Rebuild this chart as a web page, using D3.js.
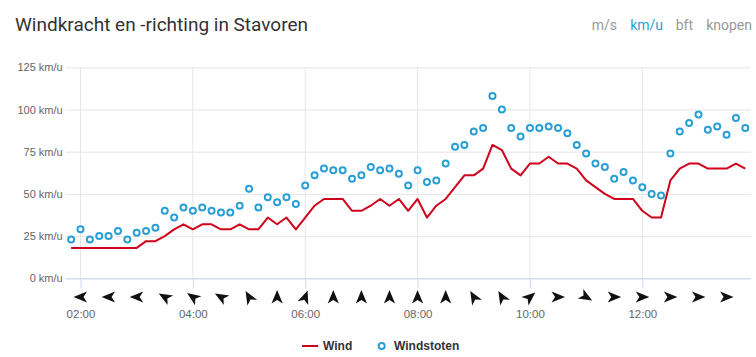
<!DOCTYPE html>
<html><head><meta charset="utf-8">
<script src="https://cdn.jsdelivr.net/npm/d3@7"></script>
<style>
html,body{margin:0;padding:0;background:#fff;}
svg{display:block;}
</style></head>
<body><svg id="c" width="756" height="357"></svg>
<script>
// ---- data ----
const times = ["01:50","02:00","02:10","02:20","02:30","02:40","02:50","03:00","03:10","03:20","03:30","03:40","03:50",
"04:00","04:10","04:20","04:30","04:40","04:50","05:00","05:10","05:20","05:30","05:40","05:50",
"06:00","06:10","06:20","06:30","06:40","06:50","07:00","07:10","07:20","07:30","07:40","07:50",
"08:00","08:10","08:20","08:30","08:40","08:50","09:00","09:10","09:20","09:30","09:40","09:50",
"10:00","10:10","10:20","10:30","10:40","10:50","11:00","11:10","11:20","11:30","11:40","11:50",
"12:00","12:10","12:20","12:30","12:40","12:50","13:00","13:10","13:20","13:30","13:40","13:50"];
const wind = [18,18,18,18,18,18,18,18,22,22,25,29,32,29,32,32,29,29,32,29,29,36,32,36,29,36,43,47,47,47,40,40,43,47,43,47,40,47,36,43,47,54,61,61,65,79,76,65,61,68,68,72,68,68,65,58,54,50,47,47,47,40,36,36,58,65,68,68,65,65,65,68,65];
const gusts = [23,29,23,25,25,28,23,27,28,30,40,36,42,40,42,40,39,39,43,53,42,48,45,48,44,55,61,65,64,64,59,61,66,64,65,62,55,64,57,58,68,78,79,87,89,108,100,89,84,89,89,90,89,86,79,74,68,66,59,63,58,54,50,49,74,87,92,97,88,90,85,95,89];
const arrowTimes = ["02:00","02:30","03:00","03:30","04:00","04:30","05:00","05:30","06:00","06:30","07:00","07:30",
"08:00","08:30","09:00","09:30","10:00","10:30","11:00","11:30","12:00","12:30","13:00","13:30"];
const arrowDirs = [270,270,270,300,305,300,330,0,20,0,0,0,0,0,330,330,50,90,120,90,90,90,90,90];
const xTicks = ["02:00","04:00","06:00","08:00","10:00","12:00"];
const yTicks = [0,25,50,75,100,125];
const units = ["m/s","km/u","bft","knopen"];
const activeUnit = "km/u";
const title = "Windkracht en -richting in Stavoren";

// ---- chart ----
const svg = d3.select("#c");
const parse = d3.timeParse("%H:%M");
const pLeft = 65.7, pRight = 751, pTop = 67.3, pBottom = 278.3;
const x = d3.scaleTime().domain([parse("02:00"), parse("12:00")]).range([80.5, 642.3]);
const y = d3.scaleLinear().domain([0,125]).range([pBottom, pTop]);
const axisFont = "'Liberation Sans', Arial, sans-serif";

svg.append("text").attr("x",15).attr("y",31).text(title)
  .attr("font-family","Roboto, sans-serif").attr("font-size",19).attr("fill","#333");

const unitRight = [617, 663, 693, 752];
svg.selectAll("text.unit").data(units).join("text").attr("class","unit")
  .attr("x",(d,i)=>unitRight[i]).attr("y",30).attr("text-anchor","end").text(d=>d)
  .attr("font-family","Roboto, sans-serif").attr("font-size",14)
  .attr("fill",d=>d===activeUnit?"#2a9fd6":"#999");

// horizontal grid
const yAxis = d3.axisLeft(y).tickValues(yTicks).tickSize(-(pRight-pLeft)).tickFormat(d=>d+" km/u").tickPadding(3);
const gy = svg.append("g").attr("transform",`translate(${pLeft},0)`).call(yAxis);
gy.select(".domain").remove();
gy.selectAll(".tick line").attr("stroke","#e6e6e6");
gy.selectAll(".tick text").attr("font-family",axisFont).attr("font-size",11).attr("fill","#666");

// vertical grid
svg.append("g").selectAll("line").data(xTicks).join("line")
  .attr("x1",d=>x(parse(d))).attr("x2",d=>x(parse(d)))
  .attr("y1",pTop).attr("y2",pBottom).attr("stroke","#e6e6e6");

// x axis
const xAxis = d3.axisBottom(x).tickValues(xTicks.map(parse)).tickSize(10).tickFormat(d3.timeFormat("%H:%M"));
const gx = svg.append("g").attr("transform",`translate(0,${pBottom})`).call(xAxis);
gx.select(".domain").attr("d",`M${pLeft},0.5H${pRight}`).attr("stroke","#ccd6eb");
gx.selectAll(".tick line").attr("stroke","#ccd6eb");
gx.selectAll(".tick text").attr("font-family",axisFont).attr("font-size",11.5).attr("fill","#666").attr("dy","2.35em");

// wind line
const line = d3.line().x((d,i)=>x(parse(times[i]))).y(d=>y(d));
svg.append("path").datum(wind).attr("d",line).attr("fill","none")
  .attr("stroke","#d0021b").attr("stroke-width",2).attr("stroke-linejoin","round");

// gusts
svg.append("g").selectAll("circle").data(gusts).join("circle")
  .attr("cx",(d,i)=>x(parse(times[i]))).attr("cy",d=>y(d)).attr("r",3)
  .attr("fill","#fff").attr("stroke","#2a9fd6").attr("stroke-width",2);

// direction arrows
const arrowPath = "M0,-7L5.6,6.5L0,3L-5.6,6.5Z";
svg.append("g").selectAll("path").data(arrowDirs).join("path")
  .attr("d",arrowPath).attr("fill","#111")
  .attr("transform",(d,i)=>`translate(${x(parse(arrowTimes[i]))},297) rotate(${d})`);

// legend
const lg = svg.append("g").attr("font-family",axisFont).attr("font-size",12).attr("font-weight","bold").attr("fill","#333");
lg.append("line").attr("x1",302).attr("x2",318).attr("y1",346).attr("y2",346).attr("stroke","#d0021b").attr("stroke-width",2);
lg.append("text").attr("x",323).attr("y",350).text("Wind");
lg.append("circle").attr("cx",381.7).attr("cy",346).attr("r",3).attr("fill","#fff").attr("stroke","#2a9fd6").attr("stroke-width",2);
lg.append("text").attr("x",394).attr("y",350).text("Windstoten");
</script></body></html>
